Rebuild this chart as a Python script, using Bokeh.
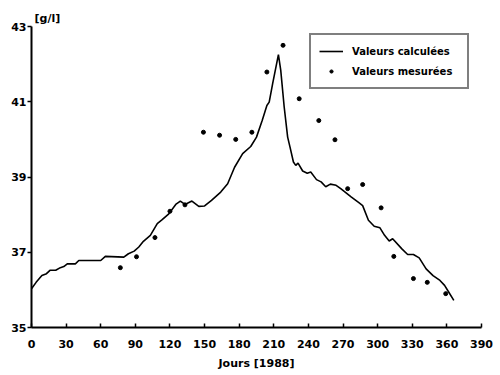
from bokeh.plotting import figure
from bokeh.models import Legend, LegendItem, FixedTicker, Range1d
from bokeh.embed import file_html
from bokeh.resources import INLINE

# Calculated salinity (line)
calc_days = [0, 4, 9, 13, 16, 21, 25, 28, 31, 38, 41, 60, 64, 80, 84, 89, 93, 97, 103, 109,
             113, 119, 125, 129, 133, 139, 145, 150, 156, 164, 170, 176, 183, 190, 195, 200,
             204, 206, 209, 214, 216, 219, 222, 224, 227, 229, 231, 235, 239, 242, 247, 251,
             255, 259, 264, 268, 277, 284, 287, 292, 297, 302, 306, 310, 313, 321, 326, 331,
             336, 342, 348, 354, 358, 361, 366]
calc_vals = [36.03, 36.20, 36.38, 36.43, 36.52, 36.52, 36.59, 36.62, 36.69, 36.69, 36.78, 36.78,
             36.89, 36.87, 36.96, 37.03, 37.14, 37.29, 37.45, 37.76, 37.86, 38.02, 38.27, 38.36,
             38.27, 38.36, 38.22, 38.23, 38.38, 38.60, 38.82, 39.26, 39.62, 39.81, 40.06, 40.51,
             40.90, 40.99, 41.48, 42.25, 41.84, 40.86, 40.06, 39.80, 39.40, 39.31, 39.37, 39.16,
             39.10, 39.13, 38.93, 38.87, 38.74, 38.81, 38.78, 38.69, 38.47, 38.31, 38.24, 37.85,
             37.69, 37.65, 37.45, 37.30, 37.36, 37.09, 36.94, 36.94, 36.85, 36.56, 36.38, 36.25,
             36.12, 35.97, 35.72]

# Measured salinity (points)
meas_days = [77, 91, 107, 120, 133, 149, 163, 177, 191, 204, 218, 232, 249, 263, 274, 287,
             303, 314, 331, 343, 359]
meas_vals = [36.59, 36.88, 37.39, 38.09, 38.26, 40.19, 40.11, 40.00, 40.19, 41.79, 42.50, 41.08,
             40.50, 39.99, 38.69, 38.80, 38.18, 36.89, 36.30, 36.20, 35.90]

x_ticks = list(range(0, 391, 30))
y_ticks = [35, 37, 39, 41, 43]

FONT = "DejaVu Sans"

p = figure(width=500, height=375, output_backend="svg", toolbar_location=None,
           x_range=Range1d(0, 390), y_range=Range1d(35, 43),
           min_border_left=31, min_border_right=19, min_border_top=26, min_border_bottom=48,
           title="[g/l]")
p.outline_line_color = None
p.grid.visible = False
p.background_fill_color = "white"

p.title.align = "left"
p.title.offset = 3
p.title.standoff = 4
p.title.text_font = FONT
p.title.text_font_style = "bold"
p.title.text_font_size = "11px"
p.title.text_color = "black"

for ax in (p.xaxis[0], p.yaxis[0]):
    ax.axis_line_width = 2
    ax.axis_line_color = "black"
    ax.major_tick_line_width = 1.5
    ax.major_tick_line_color = "black"
    ax.minor_tick_line_color = None
    ax.major_label_text_font = FONT
    ax.major_label_text_font_style = "bold"
    ax.major_label_text_font_size = "11px"
    ax.major_label_text_color = "black"

p.xaxis.ticker = FixedTicker(ticks=x_ticks)
p.xaxis.major_tick_in = 4
p.xaxis.major_tick_out = 0
p.xaxis.major_label_standoff = 12
p.xaxis.axis_label = "Jours [1988]"
p.xaxis.axis_label_text_font = FONT
p.xaxis.axis_label_text_font_style = "bold"
p.xaxis.axis_label_text_font_size = "11px"
p.xaxis.axis_label_text_color = "black"
p.xaxis.axis_label_standoff = 6

p.yaxis.ticker = FixedTicker(ticks=y_ticks)
p.yaxis.major_tick_in = 0
p.yaxis.major_tick_out = 4
p.yaxis.major_label_standoff = 1

line_r = p.line(calc_days, calc_vals, line_color="black", line_width=1.6)
pts_r = p.scatter(meas_days, meas_vals, size=4, marker="circle",
                  fill_color="black", line_color="black")

legend = Legend(items=[LegendItem(label="Valeurs calculées", renderers=[line_r]),
                       LegendItem(label="Valeurs mesurées", renderers=[pts_r])],
                location=(278, 238))
legend.border_line_color = "black"
legend.border_line_width = 2
legend.background_fill_alpha = 1
legend.padding = 8
legend.margin = 0
legend.spacing = 4
legend.glyph_width = 24
legend.glyph_height = 8
legend.label_height = 16
legend.label_width = 107
legend.label_standoff = 9
legend.label_text_font = FONT
legend.label_text_font_style = "bold"
legend.label_text_font_size = "10px"
legend.label_text_color = "black"
p.add_layout(legend)

with open("out.html", "w") as f:
    f.write(file_html(p, INLINE))
